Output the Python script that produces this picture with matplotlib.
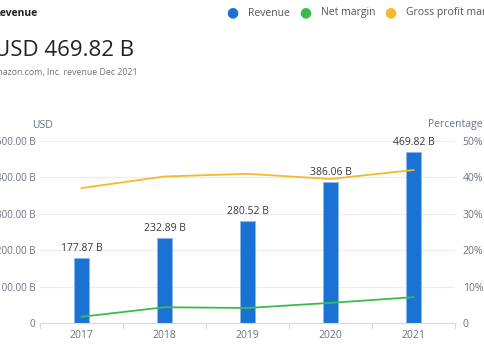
import matplotlib
matplotlib.use("Agg")
import matplotlib.pyplot as plt
from matplotlib.ticker import FixedLocator

plt.rcParams['font.family'] = ['Open Sans', 'DejaVu Sans']

years = ['2017', '2018', '2019', '2020', '2021']
revenue = [177.87, 232.89, 280.52, 386.06, 469.82]
net_margin = [1.71, 4.33, 4.13, 5.53, 7.10]
gross_margin = [37.07, 40.25, 40.99, 39.57, 42.03]
rev_ticks = [0, 100, 200, 300, 400, 500]
rev_tick_labels = ['0', '100.00 B', '200.00 B', '300.00 B', '400.00 B', '500.00 B']
pct_ticks = [0, 10, 20, 30, 40, 50]
pct_tick_labels = ['0', '10%', '20%', '30%', '40%', '50%']

W, H = 485, 360
fig = plt.figure(figsize=(W / 100, H / 100), dpi=100)
left, right, top, bottom = 40, 455, 141, 323
ax = fig.add_axes([left / W, 1 - bottom / H, (right - left) / W, (bottom - top) / H])
ax2 = ax.twinx()

blue = '#1a72d4'
green = '#3dbb4a'
orange = '#f7b928'
tick_col = '#6b7280'
grid_col = '#e8ecf4'

x = list(range(len(years)))
ax.bar(x, revenue, width=0.18, color=blue, edgecolor='#8ab8ec', linewidth=0.6, zorder=3)
for xi, v in zip(x, revenue):
    ax.annotate(f'{v:.2f} B', (xi, v), xytext=(0, 3), textcoords='offset points',
                ha='center', va='bottom', fontsize=7.5, color='#3a3a3a', zorder=5)

ax2.plot(x, net_margin, color=green, lw=1.3, zorder=4)
ax2.plot(x, gross_margin, color=orange, lw=1.3, zorder=4)

ax.set_xlim(-0.5, 4.5)
ax.set_ylim(0, 500)
ax2.set_ylim(0, 50)
ax.set_xticks(x)
ax.set_xticklabels(years)
ax.xaxis.set_minor_locator(FixedLocator([i - 0.5 for i in range(len(years) + 1)]))
ax.tick_params(axis='x', which='major', length=0, pad=5, labelsize=7.5, labelcolor=tick_col)
ax.tick_params(axis='x', which='minor', length=4, color='#d6dbe4', width=0.8)
ax.set_yticks(rev_ticks)
ax.set_yticklabels(rev_tick_labels)
ax.tick_params(axis='y', length=0, pad=3.5, labelsize=7, labelcolor=tick_col)
ax2.set_yticks(pct_ticks)
ax2.set_yticklabels(pct_tick_labels)
ax2.tick_params(axis='y', length=0, pad=5.5, labelsize=7.5, labelcolor=tick_col)

ax.grid(axis='y', color=grid_col, lw=0.8, zorder=0)
ax.set_axisbelow(True)
for a in (ax, ax2):
    for s in ('top', 'right', 'left'):
        a.spines[s].set_visible(False)
    a.spines['bottom'].set_color('#d6dbe4')
    a.spines['bottom'].set_linewidth(0.8)

fig.text(32 / W, 1 - 125 / H, 'USD', fontsize=7.5, color=tick_col, va='center', ha='left')
fig.text(483 / W, 1 - 125 / H, 'Percentage', fontsize=7.5, color=tick_col, va='center', ha='right')

fig.text(-7 / W, 1 - 13 / H, 'Revenue', fontsize=7.5, fontweight='bold', color='#222222', va='center')
fig.text(-6 / W, 1 - 51 / H, 'USD 469.82 B', fontsize=16, color='#222222', va='center')
fig.text(-11 / W, 1 - 73 / H, 'Amazon.com, Inc. revenue Dec 2021', fontsize=6.3, color='#707070', va='center')

legend_items = [('Revenue', blue, 232), ('Net margin', green, 305), ('Gross profit margin', orange, 390)]
for name, col, px in legend_items:
    fig.text(px / W, 1 - 12 / H, '\u25CF', fontsize=10, color=col, va='center', ha='center',
             family=['DejaVu Sans'])
    fig.text((px + 16) / W, 1 - 13 / H, name, fontsize=7.5, color='#555555', va='center', ha='left')

fig.savefig('out.png', dpi=100)
